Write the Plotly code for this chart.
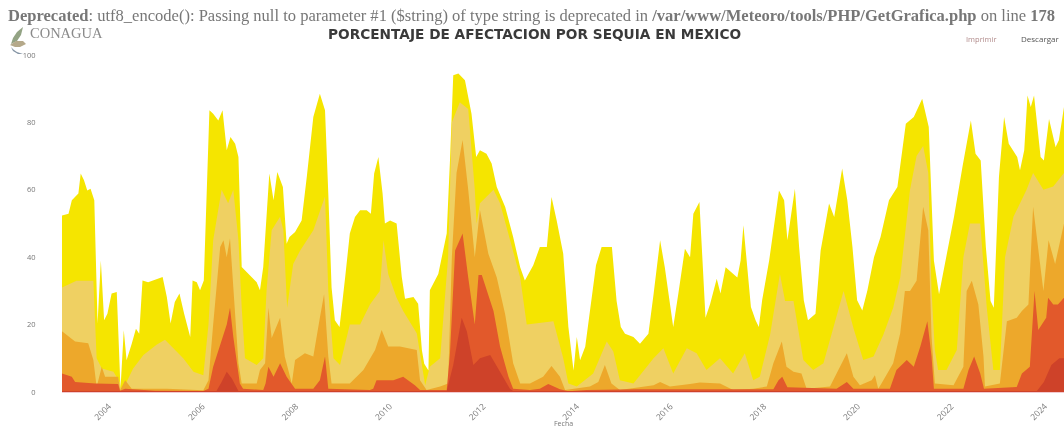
import plotly.graph_objects as go

BASE_YEAR = 2003
TITLE = "PORCENTAJE DE AFECTACION POR SEQUIA EN MEXICO"
WARNING = ("<b>Deprecated</b>: utf8_encode(): Passing null to parameter #1 ($string) of type string "
           "is deprecated in <b>/var/www/Meteoro/tools/PHP/GetGrafica.php</b> on line <b>178</b>")
YEAR_TICKS = [2004, 2006, 2008, 2010, 2012, 2014, 2016, 2018, 2020, 2022, 2024]
Y_TICKS = [0, 20, 40, 60, 80, 100]

# Years since 2003 / cumulative percentage of area.
d0_t = [0,.14,.21,.35,.40,.47,.54,.61,.69,.73,.76,.83,.90,.97,1.06,1.17,1.23,1.25,1.32,1.38,1.49,1.58,1.65,1.72,1.84,2.02,2.15,2.24,2.32,2.41,2.51,2.61,2.74,2.79,2.88,2.95,3.03,3.15,3.23,3.34,3.43,3.52,3.60,3.70,3.77,3.84,3.98,4.16,4.23,4.30,4.43,4.52,4.60,4.72,4.80,4.86,4.98,5.12,5.23,5.37,5.51,5.62,5.69,5.76,5.83,5.93,6.05,6.15,6.26,6.37,6.51,6.60,6.67,6.76,6.85,6.90,7.01,7.15,7.26,7.33,7.51,7.61,7.69,7.74,7.83,7.86,8.04,8.22,8.29,8.36,8.47,8.61,8.75,8.85,8.93,9.07,9.18,9.29,9.47,9.64,9.79,9.89,10.07,10.21,10.36,10.46,10.57,10.71,10.82,10.93,11.00,11.07,11.18,11.32,11.41,11.53,11.75,11.85,11.94,12.03,12.21,12.35,12.53,12.64,12.78,12.88,13.06,13.17,13.31,13.42,13.49,13.62,13.70,13.75,13.85,13.99,14.07,14.18,14.43,14.50,14.56,14.64,14.72,14.82,14.89,14.96,15.11,15.32,15.43,15.50,15.66,15.75,15.85,15.94,16.10,16.21,16.39,16.50,16.67,16.78,16.89,16.99,17.10,17.21,17.35,17.49,17.67,17.85,18.03,18.20,18.38,18.52,18.63,18.74,18.88,19.06,19.24,19.42,19.52,19.63,19.74,19.84,19.91,20.02,20.13,20.23,20.41,20.47,20.56,20.63,20.70,20.77,20.91,20.98,21.09,21.23,21.30,21.41]
d0_v = [52.4,52.9,56.9,58.9,64.8,62.8,59.8,60.3,56.9,39,20.3,39,21.3,23.2,29.2,29.7,9.4,1,18.3,9.4,14.3,18.8,17.3,33.1,32.6,33.6,34.1,28.2,20.3,26.7,29.2,23.2,16.3,33.1,32.6,30.2,33.1,83.6,82.6,80.6,83.6,71.7,75.7,73.7,69.7,37.1,35.1,32.6,30.2,37.1,64.8,56.9,65.3,60.8,44,46,47.5,50.9,63.8,81.6,88.5,83.6,58.9,31,21.3,19.3,34,47,51.9,53.9,53.9,52.9,64.8,69.7,58.9,50,50.9,50,34.1,27.7,28.2,26.2,12.4,8.4,6.4,30.2,35,47,68.7,94,94.5,92.5,82.6,69.7,71.7,70.7,67.8,60.8,54.9,46,37,33.1,37.6,43,43,57.9,50.9,41,19.3,6.4,16.3,9.4,13.4,29.2,37.6,43,43,27,19.3,17.3,16.3,14.3,17.3,29,45,37,19.3,29.2,42.5,40,52.9,56.4,35,22,26.2,33.6,29.2,37,34,39,49.5,37,25.2,21.3,19.3,27.2,39,59.8,56.9,45,60.3,43,27.2,21.3,23.2,42,55.9,51.9,66.3,56.9,43,27.2,24.2,30.2,40,46,56.9,60.8,79.6,81.6,87,78.6,39,29,39,52,66.8,80.6,70.7,68.7,43,27,25,63.8,81.6,73.7,69.7,65.8,71.7,88,84.6,88,69.7,68.7,81,72.7,74.7,84.6]

d1_t = [0,.31,.67,.74,.85,1.10,1.23,1.25,1.38,1.52,1.74,2.02,2.20,2.38,2.59,2.81,3.02,3.13,3.23,3.41,3.55,3.66,3.77,3.84,3.91,4.16,4.30,4.37,4.48,4.66,4.73,4.81,4.94,5.09,5.37,5.62,5.69,5.80,5.94,6.15,6.37,6.58,6.79,6.87,6.97,7.15,7.29,7.58,7.69,7.76,7.86,8.08,8.25,8.33,8.50,8.68,8.82,8.86,8.93,9.22,9.36,9.57,9.79,9.93,10.50,10.71,10.82,11.00,11.35,11.64,11.78,11.92,12.21,12.64,12.85,13.06,13.35,13.56,13.77,14.06,14.34,14.59,14.77,14.91,15.13,15.34,15.45,15.63,15.84,16.05,16.27,16.48,16.70,16.91,17.12,17.34,17.55,17.76,17.91,18.12,18.26,18.40,18.51,18.58,18.65,18.72,18.90,19.12,19.26,19.40,19.62,19.76,19.90,20.04,20.15,20.33,20.61,20.75,20.97,21.18,21.41]
d1_v = [31,33,33,10,7,6,3,1,3,7,11,14,15.5,13,10,6,5,20,45,60,56,60,45,25,10,8,10,30,48,52,48,25,38,42,48,58,30,10,8,20,20,26,30,45,35,28,24,17.4,8,2,7.5,10,40,80,86,84,60,50,56,60,56,45,34,20,21,10,2.5,1.6,5.5,15,12,3.5,2.5,10,13,5.5,13,11.5,6.5,10,5.5,11.5,3.5,4.5,17,35,27,27,9.5,6.5,8.5,19,30,19,9.5,10.5,17,25,34,60,70,73,65,30,12.5,6.5,6.5,12.5,40,50,50,25,6.5,6.5,40,52,60,65,60,61,65]

d2_t = [0,.28,.56,.67,.74,.85,.92,1.20,1.24,1.35,1.49,2.24,3.02,3.13,3.23,3.38,3.45,3.52,3.59,3.66,3.77,3.84,4.16,4.23,4.34,4.41,4.48,4.66,4.76,4.91,4.98,5.19,5.37,5.51,5.60,5.69,5.76,6.15,6.44,6.69,6.83,6.97,7.22,7.58,7.65,7.79,8.08,8.25,8.33,8.43,8.56,8.68,8.82,8.86,8.93,9.11,9.29,9.47,9.64,9.79,10.00,10.28,10.46,10.64,10.75,11.28,11.46,11.60,11.74,11.92,12.64,12.78,12.99,13.42,13.63,14.06,14.34,14.77,15.06,15.20,15.38,15.48,15.63,15.80,15.91,16.41,16.62,16.77,16.91,17.05,17.30,17.37,17.44,17.51,17.76,17.91,18.01,18.12,18.26,18.40,18.51,18.58,18.65,19.05,19.26,19.33,19.44,19.58,19.69,19.72,20.04,20.19,20.40,20.51,20.65,20.75,20.89,20.97,21.08,21.22,21.41]
d2_v = [18,15,14.5,9.5,1.5,7.5,4.5,4.5,.5,3.5,1,1,.5,3.5,20,43,45,40,45.6,30,8.5,2.5,2.5,6.5,8.5,25,16,22,10.5,2.5,9.5,11.5,10.5,22,29,10.5,2.5,2.5,6.5,12.5,18.4,13.5,13.5,12.5,3.5,.6,1.6,2.5,40,65,74.8,60,40,45,54,41,34,23,8.5,2.5,2.5,4.5,7.7,4.5,.6,1.6,3,8,2.5,.6,2,3,1.6,2.4,2.8,2.5,.6,1,1.6,8.5,15,7.5,6,5.5,1,1.6,7.5,11.5,4.5,2,3.5,5,1,2.5,8.5,17.4,30,30,33,55,48,16.4,2.5,2,7.5,30,33,26,10.5,1.6,2.5,21,22,24,26,55,39,30,45,38,50]

d3_t = [0,.21,.28,.71,1.20,1.24,1.35,1.99,3.02,3.13,3.23,3.41,3.52,3.59,3.66,3.80,3.87,4.30,4.35,4.41,4.52,4.66,4.80,4.98,5.37,5.51,5.62,5.69,6.58,6.65,6.72,7.08,7.29,7.54,7.65,8.22,8.29,8.40,8.56,8.68,8.82,8.90,8.97,9.22,9.36,9.54,9.64,10.00,10.21,10.39,10.64,10.82,11.21,12.28,14.91,15.20,15.31,15.39,15.50,16.55,16.77,16.91,17.69,17.83,18.05,18.20,18.34,18.49,18.58,18.63,19.26,19.37,19.49,19.62,19.70,20.40,20.51,20.68,20.78,20.86,21.03,21.07,21.18,21.28,21.41]
d3_v = [5.5,4.5,3,2.5,2.4,.4,1,.4,.3,1,7.5,15.4,20,25,16.4,2.5,1,.6,2.5,7.5,4.5,8.5,4.5,1,1,3.5,10.5,1,.6,1,3.5,3.5,4.5,2,.6,.6,11.5,42,47,34,20,34.7,34.7,24,13.5,4.5,1,.6,1,2.4,.8,.2,.6,.8,.8,.8,3.5,4.5,1.4,1,3,1,1,6.5,9.5,7.5,13.5,21,10.5,1,1,6.5,10.5,5.5,1,1.5,5.5,7.5,30,18.4,22,28,26,26,28]

d4_t = [0,3.30,3.41,3.52,3.63,3.77,8.22,8.36,8.54,8.65,8.79,8.93,9.15,9.36,9.57,9.64,20.83,20.98,21.14,21.31,21.41]
d4_v = [.3,.3,3,6,4,.3,.3,8,22,18,8,10,11,6,1,.3,.3,3,8,10,10]

SERIES = [("D0", d0_t, d0_v, "#F5E500"), ("D1", d1_t, d1_v, "#EFD062"),
          ("D2", d2_t, d2_v, "#EDA82B"), ("D3", d3_t, d3_v, "#E2592B"),
          ("D4", d4_t, d4_v, "#CE4229")]

fig = go.Figure()
for name, t, v, color in SERIES:
    fig.add_trace(go.Scatter(x=[BASE_YEAR + a for a in t], y=v, name=name, mode="lines",
                             fill="tozeroy", fillcolor=color, line=dict(width=0, color=color),
                             showlegend=False))

GREY = "#777777"
W, H = 1064, 429
ML, MT, MB = 62, 55, 37
PW, PH = W - ML, H - MT - MB
px = lambda v: (v - ML) / PW
py = lambda v: (H - MB - v) / PH

def note(text, x, y, size, color, family="Open Sans", anchor="left"):
    fig.add_annotation(text=text, xref="paper", yref="paper", x=px(x), y=py(y), showarrow=False,
                       xanchor=anchor, yanchor="middle", align="left", borderpad=0,
                       font=dict(size=size, color=color, family=family))

note(WARNING, 7, 16, 16.55, "#777777", "Liberation Serif")
note("CONAGUA", 29, 33, 14.5, "#8a8a8a", "Liberation Serif")
note("<b>%s</b>" % TITLE, 534, 34, 13.7, "#3a3a3a", "DejaVu Sans", "center")
note("Imprimir", 965, 39, 7.5, "#b08a8a")
note("Descargar", 1020, 39, 8, "#555555")
note("Fecha", 563, 423, 7, GREY, anchor="center")

# CONAGUA leaf mark, given as closed outlines on the page
LOGO = [
    ([(23, 27), (17, 32), (13, 38), (11, 44), (17, 41), (21, 35)], "#93a384"),
    ([(10, 45), (16, 41), (23, 41), (26, 44), (20, 47), (15, 47)], "#b5a98a"),
    ([(11, 47), (13, 51), (18, 54), (23, 54), (17, 52), (14, 50)], "#8595a5"),
]
for outline, color in LOGO:
    path = "M " + " L ".join(f"{px(a):.5f} {py(b):.5f}" for a, b in outline) + " Z"
    fig.add_shape(type="path", xref="paper", yref="paper", line_width=0, fillcolor=color, path=path)

fig.update_layout(
    width=W, height=H, autosize=False, paper_bgcolor="white", plot_bgcolor="white",
    margin=dict(l=ML, r=0, t=MT, b=MB, pad=0),
    xaxis=dict(range=[2003, 2024.41], tickvals=YEAR_TICKS, ticktext=[str(y) for y in YEAR_TICKS],
               tickangle=-45, showgrid=False, zeroline=False, showline=True, linecolor="#f3c9cf",
               linewidth=1, ticks="outside", ticklen=5, tickcolor="rgba(0,0,0,0)",
               tickfont=dict(size=8.5, color=GREY, family="Open Sans")),
    yaxis=dict(range=[0, 100], tickvals=Y_TICKS, showgrid=False, zeroline=False, showline=False,
               ticks="outside", ticklen=24, tickcolor="rgba(0,0,0,0)",
               tickfont=dict(size=7.5, color=GREY, family="Open Sans")),
)
fig.write_html("out.html", config={"displayModeBar": False},
               post_script="document.body.style.margin='0';document.body.style.filter='blur(0.6px)';")
